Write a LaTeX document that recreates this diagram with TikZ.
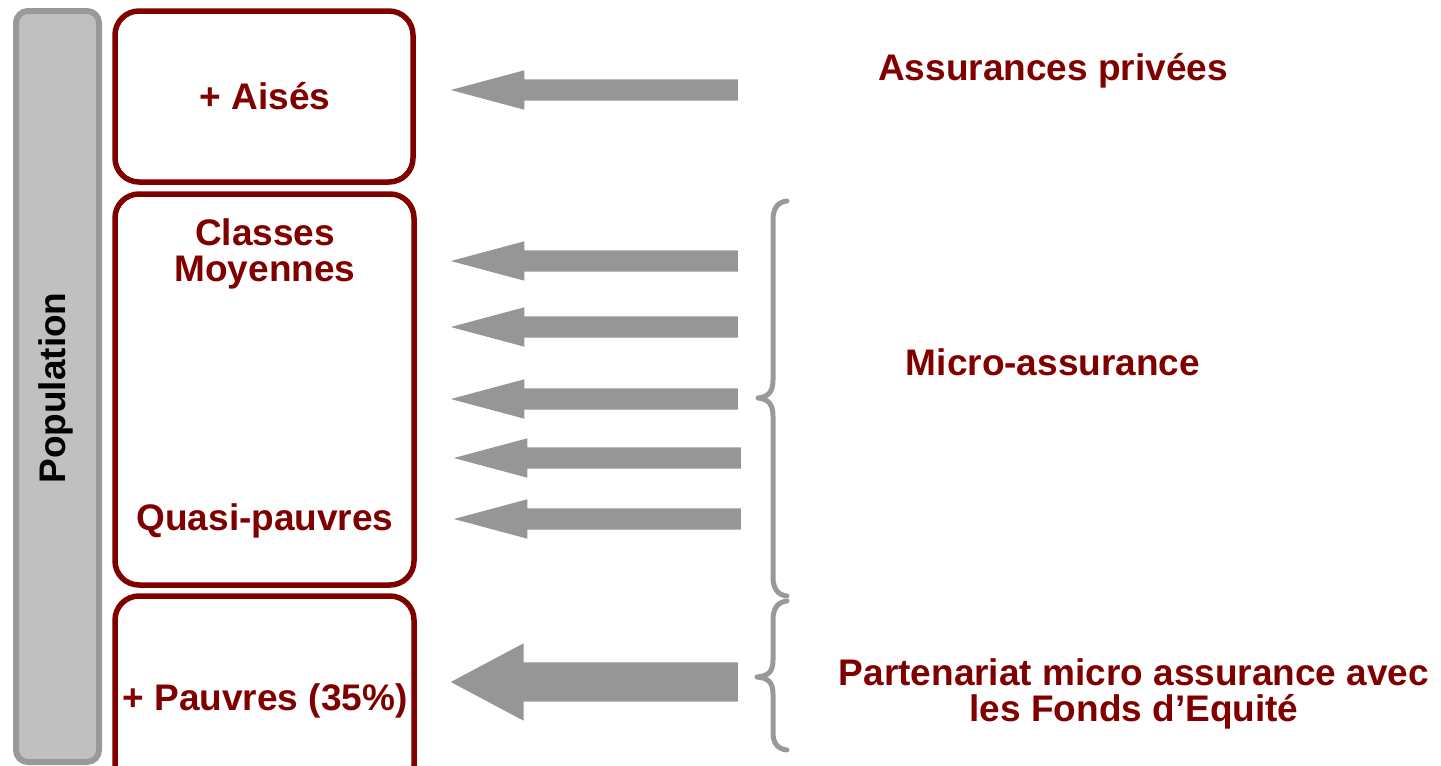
\documentclass[tikz,border=0pt]{standalone}
\usepackage{fontspec}
\setmainfont{Liberation Sans}
\usetikzlibrary{shapes.arrows}
\definecolor{darkred}{HTML}{800000}
\definecolor{barfill}{HTML}{C0C0C0}
\definecolor{edgegray}{HTML}{999999}
\definecolor{arrowgray}{HTML}{969696}
\begin{document}
\begin{tikzpicture}[x=1pt,y=-1pt,
  group/.style={draw=darkred, line width=5.5pt, rounded corners=24pt, rectangle, inner sep=0pt},
  popbar/.style={draw=edgegray, fill=barfill, line width=6pt, rounded corners=12pt, rectangle, inner sep=0pt},
  lbl/.style={text=darkred, font=\fontsize{37}{36}\selectfont\bfseries, align=center, inner sep=0pt},
  flow/.style={single arrow, fill=arrowgray, draw=none, shape border rotate=180,
    inner sep=10.5pt, single arrow head extend=9pt, single arrow tip angle=30,
    minimum height=287pt, anchor=tail},
  bigflow/.style={flow, inner sep=19.5pt, single arrow head extend=19pt, single arrow tip angle=56},
  bracket/.style={draw=edgegray, line width=5pt, line cap=round, line join=round}]
\useasboundingbox (0,0) rectangle (1441,766);
\clip (0,0) rectangle (1441,766);

% population bar and the three groups
\node[popbar, minimum width=83pt, minimum height=751pt] (bar) at (57.5,386.5) {};
\node[rotate=90, font=\fontsize{37}{36}\selectfont\bfseries, inner sep=0pt] (pop) at (56,388) {Population};

\node[group, minimum width=298pt, minimum height=171pt] (rich) at (264,96.5) {};
\node[group, minimum width=299pt, minimum height=391pt] (middle) at (264.5,389.5) {};
\node[group, minimum width=299pt, minimum height=194pt] (poor) at (264.5,693) {};

\node[lbl] (richtxt) at (265,96) {+ Aisés};
\node[lbl] (midtxt) at (265,254) {Classes\\Moyennes};
\node[lbl] (quasitxt) at (265,521) {Quasi-pauvres};
\node[lbl] (poortxt) at (265,701) {+ Pauvres (35\%)};

% flows towards the groups
\node[flow] (f1) at (738,90) {};
\node[flow] (f2) at (738,261) {};
\node[flow] (f3) at (738,327) {};
\node[flow] (f4) at (738,399) {};
\node[flow] (f5) at (741,458) {};
\node[flow] (f6) at (741,519) {};
\node[bigflow] (f7) at (738,682) {};

% braces
\draw[bracket] (787,201) .. controls (778,202) and (773,208) .. (773,220) -- (773,380)
  .. controls (773,392) and (768,397) .. (758,398)
  .. controls (768,399) and (773,404) .. (773,416) -- (773,577)
  .. controls (773,589) and (778,595) .. (787,596);
\draw[bracket] (787,601) .. controls (778,602) and (773,608) .. (773,620) -- (773,660)
  .. controls (773,672) and (768,676) .. (757,677)
  .. controls (768,678) and (773,682) .. (773,694) -- (773,732)
  .. controls (773,744) and (778,749) .. (787,750);

% schemes
\node[lbl] (priv) at (1053,71) {Assurances privées};
\node[lbl] (micro) at (1053,362) {Micro-assurance};
\node[lbl] (part) at (1134,694) {Partenariat micro assurance avec\\les Fonds d’Equité};
\end{tikzpicture}
\end{document}
